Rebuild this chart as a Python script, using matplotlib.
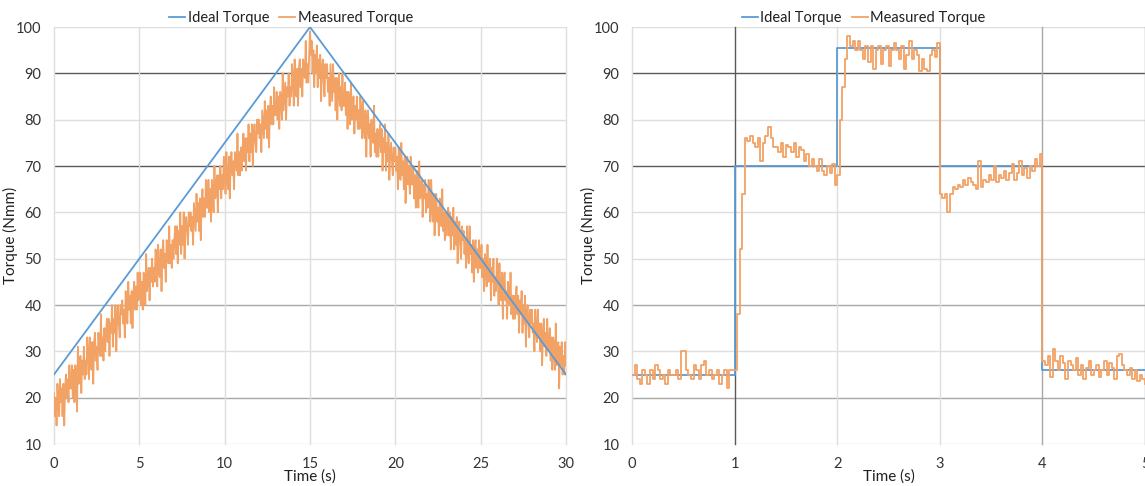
import numpy as np
import matplotlib
matplotlib.use("Agg")
import matplotlib.pyplot as plt

plt.rcParams['font.family'] = ['Lato', 'DejaVu Sans']

# ---------------- Data ----------------
# Left chart: ramp test
ideal_left_t = [0, 15, 30]
ideal_left_v = [25, 100, 25]

# measured torque, one row per second (20 samples / s)
measured_left_v = [
    21, 16, 20, 14, 23, 19, 16, 24, 19, 22, 16, 23, 14, 22, 25, 20, 24, 19, 27, 22,
    22, 27, 20, 26, 19, 27, 25, 17, 31, 23, 25, 29, 21, 28, 25, 31, 24, 28, 25, 33,
    30, 24, 33, 28, 26, 32, 23, 32, 34, 28, 31, 26, 34, 31, 29, 38, 29, 33, 28, 35,
    30, 34, 37, 32, 37, 29, 36, 34, 40, 31, 37, 34, 40, 30, 37, 40, 36, 33, 40, 38,
    41, 36, 39, 33, 43, 39, 36, 45, 39, 42, 36, 43, 35, 42, 45, 39, 44, 39, 47, 41,
    42, 47, 40, 45, 39, 47, 45, 40, 51, 43, 45, 48, 41, 48, 45, 50, 44, 48, 45, 52,
    50, 44, 53, 47, 46, 52, 43, 51, 54, 48, 51, 45, 54, 51, 49, 57, 49, 53, 48, 54,
    50, 54, 57, 51, 57, 49, 56, 53, 60, 51, 57, 53, 60, 50, 57, 59, 56, 53, 60, 57,
    60, 56, 59, 53, 62, 59, 56, 64, 58, 62, 56, 63, 54, 62, 65, 59, 63, 59, 67, 61,
    61, 67, 60, 65, 58, 67, 65, 60, 70, 63, 65, 68, 60, 68, 65, 70, 63, 68, 65, 72,
    69, 64, 73, 67, 65, 72, 63, 71, 73, 68, 71, 65, 73, 71, 69, 77, 68, 73, 68, 74,
    69, 74, 77, 71, 76, 69, 76, 73, 79, 71, 77, 73, 79, 70, 77, 79, 75, 73, 80, 77,
    80, 76, 79, 73, 82, 79, 76, 84, 78, 82, 76, 83, 74, 82, 85, 79, 83, 79, 87, 81,
    81, 86, 80, 85, 78, 86, 85, 80, 90, 82, 85, 88, 80, 87, 85, 90, 83, 87, 85, 92,
    89, 83, 93, 87, 85, 91, 83, 91, 93, 87, 91, 85, 93, 90, 89, 97, 88, 92, 88, 94,
    99, 94, 97, 90, 95, 87, 94, 90, 96, 87, 93, 89, 94, 84, 91, 93, 88, 85, 92, 89,
    92, 86, 89, 83, 92, 88, 84, 92, 86, 89, 82, 89, 80, 87, 90, 83, 87, 82, 90, 83,
    83, 88, 81, 86, 78, 86, 84, 79, 88, 80, 82, 85, 77, 83, 80, 85, 78, 82, 78, 85,
    82, 76, 84, 78, 76, 82, 72, 80, 82, 76, 79, 72, 80, 77, 75, 83, 73, 77, 72, 78,
    72, 76, 79, 73, 78, 69, 76, 73, 79, 69, 75, 71, 77, 67, 73, 75, 71, 68, 74, 71,
    74, 69, 72, 65, 74, 70, 67, 75, 68, 71, 65, 72, 62, 69, 72, 66, 70, 64, 72, 66,
    66, 70, 63, 68, 61, 69, 66, 61, 71, 63, 64, 67, 59, 66, 63, 67, 60, 64, 61, 67,
    64, 58, 67, 61, 58, 64, 55, 63, 64, 58, 61, 55, 63, 59, 57, 65, 56, 60, 54, 60,
    55, 59, 61, 55, 60, 52, 59, 55, 61, 52, 58, 53, 59, 49, 56, 58, 53, 50, 57, 54,
    56, 51, 54, 48, 57, 52, 49, 57, 51, 53, 47, 54, 45, 52, 54, 48, 52, 47, 54, 48,
    48, 53, 46, 50, 43, 51, 49, 44, 53, 45, 47, 50, 41, 48, 45, 50, 42, 46, 43, 50,
    47, 40, 49, 43, 41, 47, 37, 45, 47, 41, 43, 37, 45, 42, 40, 47, 38, 42, 37, 42,
    37, 41, 44, 38, 42, 34, 41, 38, 43, 34, 40, 36, 42, 31, 38, 40, 36, 33, 39, 36,
    39, 34, 36, 30, 39, 35, 32, 39, 33, 36, 30, 36, 27, 34, 37, 31, 34, 29, 37, 31,
    30, 35, 28, 33, 26, 33, 31, 26, 36, 27, 29, 32, 22, 31, 27, 32, 25, 29, 25, 32,
    27,
]
measured_left_t = np.linspace(0, 30, len(measured_left_v))

# Right chart: step test
ideal_right_t = [0, 1, 2, 3, 4, 5]
ideal_right_v = [25, 70, 95.5, 70, 26, 26]

measured_right_v = [
    25, 27, 24, 23, 26, 25, 23, 26, 24, 27,
    26, 24, 25, 23, 26, 25, 25, 26, 24, 30,
    30, 26, 25, 24, 27, 26, 24, 27, 28, 25,
    26, 24, 25, 26, 23, 25, 26, 22, 26, 26,
    26, 38, 52, 64,
    76, 75.5, 76.5, 75, 74, 76, 71, 75, 76.5, 78.5,
    76, 74, 74, 73, 75, 72, 74.5, 74, 73, 75,
    72, 74, 73.5, 71, 72.5, 70, 71.5, 70, 69, 71.5,
    69, 68, 70, 68.5, 70.5, 66,
    68, 80, 87, 93,
    98, 96, 97, 95, 97, 95, 93, 96, 92.5, 96,
    91, 95, 96, 92, 95, 96, 91.5, 95, 96.5, 95,
    93, 96, 91, 94, 97, 93, 95, 94, 90.5, 93,
    91, 90.5, 94, 95, 93.5, 96.5,
    64, 63, 64, 60, 64, 65.5, 65, 66, 65.5, 67,
    66, 67.5, 66.5, 66, 65, 71, 65.5, 67, 66.5, 68,
    67, 70, 66.5, 68, 67.5, 69, 67, 68.5, 70.5, 67,
    68.5, 71, 68, 69.5, 67.5, 70, 69, 71.5, 70, 72.5,
    28, 27, 29, 24.5, 30.5, 28, 26, 29, 27.5, 24,
    28, 27, 26, 28.5, 25, 27, 24, 26.5, 28, 25,
    26, 27, 24.5, 26, 28, 25, 27.5, 26.5, 24, 29,
    29.5, 27, 26, 25, 26.5, 24, 26, 23.5, 25, 24, 23,
]
measured_right_t = np.linspace(0, 5, len(measured_right_v))

y_ticks = [10, 20, 30, 40, 50, 60, 70, 80, 90, 100]
x_ticks_left = [0, 5, 10, 15, 20, 25, 30]
x_ticks_right = [0, 1, 2, 3, 4, 5]

# ---------------- Style ----------------
BLUE = '#5B9BD5'
ORANGE = '#F3A265'
DARK = '#5a5a5a'
MED = '#a8a8a8'
LIGHT = '#dedede'

hgrid_colors = {90: DARK, 70: DARK, 40: MED, 20: MED}
vgrid_left = {}
vgrid_right = {1: DARK, 4: MED, 5: MED}

fig = plt.figure(figsize=(11.45, 4.86), dpi=100)
ax1 = fig.add_axes([54 / 1145, 42 / 486, 512 / 1145, 417 / 486])
ax2 = fig.add_axes([632 / 1145, 42 / 486, 513 / 1145, 417 / 486])


def style(ax, xticks, vgrid, xmax):
    for s in ax.spines.values():
        s.set_visible(False)
    ax.set_ylim(10, 100)
    ax.set_xlim(0, xmax)
    ax.set_yticks(y_ticks)
    ax.set_xticks(xticks)
    ax.tick_params(length=0, labelsize=10.5, colors='#333333')
    ax.tick_params(axis='y', pad=9)
    ax.tick_params(axis='x', pad=9)
    for y in y_ticks:
        ax.axhline(y, color=hgrid_colors.get(y, LIGHT), lw=1.0, zorder=0)
    for x in xticks:
        ax.axvline(x, color=vgrid.get(x, LIGHT), lw=1.0, zorder=0, clip_on=False)
    ax.set_xlabel('Time (s)', fontsize=11, labelpad=-1, color='#202020')
    ax.set_ylabel('Torque (Nmm)', fontsize=11, color='#202020')
    ax.yaxis.set_label_coords(-0.070, 0.5)


style(ax1, x_ticks_left, vgrid_left, 30)
style(ax2, x_ticks_right, vgrid_right, 5)

ax1.plot(ideal_left_t, ideal_left_v, color=BLUE, lw=1.3, label='Ideal Torque', zorder=3)
ax1.plot(measured_left_t, measured_left_v, color=ORANGE, lw=1.3, label='Measured Torque', zorder=2)

ax2.plot(ideal_right_t, ideal_right_v, color=BLUE, lw=1.3, drawstyle='steps-post',
         label='Ideal Torque', zorder=2)
ax2.plot(measured_right_t, measured_right_v, color=ORANGE, lw=1.3, drawstyle='steps-post',
         label='Measured Torque', zorder=3)

for ax, cx in ((ax1, 0.463), (ax2, 0.452)):
    leg = ax.legend(loc='center', bbox_to_anchor=(cx, 1.022), ncol=2, frameon=False,
                    fontsize=10.5, handlelength=1.1, handletextpad=0.15,
                    columnspacing=0.7, borderaxespad=0)
    for t in leg.get_texts():
        t.set_color('#202020')

fig.savefig('out.png', dpi=100)
